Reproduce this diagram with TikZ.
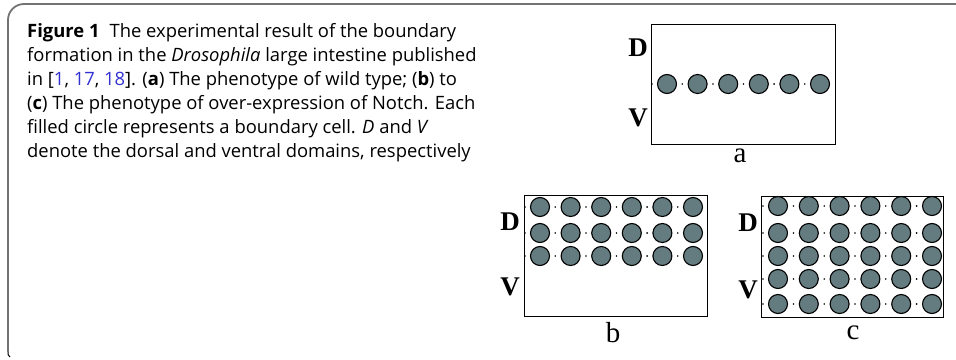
\documentclass[tikz,border=0pt]{standalone}
\usepackage{fontspec}
\setmainfont{Open Sans}
\newfontfamily\serifl{Liberation Serif}
\definecolor{cellfill}{RGB}{100,124,128}
\definecolor{linkblue}{RGB}{50,50,210}
\definecolor{framegray}{RGB}{115,115,115}
\begin{document}
\begin{tikzpicture}[x=1pt,y=-1pt,
  cell/.style={circle,draw=black,line width=1.1pt,fill=cellfill,minimum size=19pt,inner sep=0pt},
  panel/.style={draw=black,line width=1.3pt},
  dotmark/.style={circle,fill=black,minimum size=1.8pt,inner sep=0pt},
  lab/.style={font=\serifl\bfseries\fontsize{27}{27}\selectfont,inner sep=0pt},
  plab/.style={font=\serifl\fontsize{29}{29}\selectfont,inner sep=0pt},
  txt/.style={anchor=base west,inner sep=0pt,font=\fontsize{18.4}{22}\selectfont}]
\useasboundingbox (0,0) rectangle (956,359);
% frame
\draw[framegray,line width=1.8pt,rounded corners=16pt] (956,4) -- (8,4) -- (8,352);
\draw[black,line width=1pt] (8,352) .. controls (8,355) .. (10,357);
% caption
\node[txt] (t1) at (27,37) {\textbf{Figure 1}\hspace{0.55em}The experimental result of the boundary};
\node[txt] (t2) at (27,61) {formation in the \textit{Drosophila} large intestine published};
\node[txt] (t3) at (27,85) {in [\textcolor{linkblue}{1}, \textcolor{linkblue}{17}, \textcolor{linkblue}{18}]. (\textbf{a}) The phenotype of wild type; (\textbf{b}) to};
\node[txt] (t4) at (27,109) {(\textbf{c}) The phenotype of over-expression of Notch. Each};
\node[txt] (t5) at (27,133) {filled circle represents a boundary cell. \textit{D} and \textit{V}};
\node[txt] (t6) at (27,157) {denote the dorsal and ventral domains, respectively};
% panel a
\node[panel,minimum width=184pt,minimum height=120pt,inner sep=0pt,anchor=north west] (boxa) at (651,24) {};
\node[dotmark] (da) at (652,84) {};
\foreach \i in {0,...,4} \node[dotmark] (dda\i) at ({682.3+30.6*\i},84) {};
\foreach \i in {0,...,5} \node[cell] (a\i) at ({667+30.6*\i},84) {};
\node[lab] (Da) at (638,48) {D};
\node[lab] (Va) at (638,118) {V};
\node[plab] (la) at (740,156) {a};
% panel b
\node[panel,minimum width=183pt,minimum height=121pt,inner sep=0pt,anchor=north west] (boxb) at (524,195) {};
\foreach \y [count=\r] in {207,233,256} {
  \node[dotmark] (db\r) at (525,\y) {};
  \foreach \i in {0,...,4} \node[dotmark] (ddb\r\i) at ({555.3+30.6*\i},\y) {};
  \foreach \i in {0,...,5} \node[cell] (b\r\i) at ({540+30.6*\i},\y) {};
}
\node[lab] (Db) at (510,222) {D};
\node[lab] (Vb) at (510,287) {V};
\node[plab] (lb) at (613,333) {b};
% panel c
\node[panel,minimum width=182pt,minimum height=121pt,inner sep=0pt,anchor=north west] (boxc) at (761,196) {};
\foreach \y [count=\r] in {206,233,256,279,304} {
  \node[dotmark] (dc\r) at (763,\y) {};
  \foreach \i in {0,...,4} \node[dotmark] (ddc\r\i) at ({793.4+30.8*\i},\y) {};
  \foreach \i in {0,...,5} \node[cell] (c\r\i) at ({778+30.8*\i},\y) {};
}
\node[lab] (Dc) at (748,223) {D};
\node[lab] (Vc) at (748,290) {V};
\node[plab] (lc) at (853,333) {c};
\end{tikzpicture}
\end{document}
